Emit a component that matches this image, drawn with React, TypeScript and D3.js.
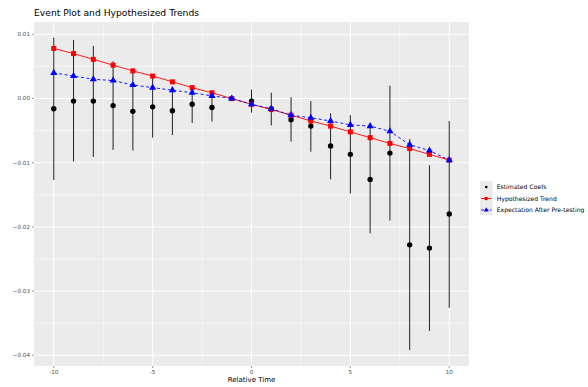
import * as d3 from "d3";

const times = [-10, -9, -8, -7, -6, -5, -4, -3, -2, -1, 0, 1, 2, 3, 4, 5, 6, 7, 8, 9, 10];
const coefs = [-0.0016, -0.0004, -0.0004, -0.0011, -0.002, -0.0013, -0.0019, -0.0009, -0.0014, 0, -0.0004, -0.0016, -0.0033, -0.0043, -0.0074, -0.0087, -0.0126, -0.0085, -0.0228, -0.0233, -0.018];
const ciLow = [-0.0127, -0.0098, -0.0091, -0.008, -0.0081, -0.0061, -0.0057, -0.0038, -0.0036, 0, -0.0022, -0.0042, -0.0067, -0.0083, -0.0126, -0.0148, -0.021, -0.019, -0.0392, -0.0362, -0.0326];
const ciHigh = [0.0095, 0.0091, 0.0082, 0.0058, 0.0047, 0.0035, 0.0017, 0.0012, 0.0008, 0, 0.0014, 0.0009, 0.0002, -0.0004, -0.0023, -0.0026, -0.0043, 0.002, -0.0063, -0.0104, -0.0035];
const trend = [0.0078, 0.007, 0.0061, 0.0052, 0.0043, 0.0035, 0.0026, 0.0017, 0.0009, 0, -0.0009, -0.0017, -0.0026, -0.0035, -0.0043, -0.0052, -0.0061, -0.007, -0.0078, -0.0087, -0.0096];
const expectation = [0.004, 0.0035, 0.003, 0.0028, 0.0021, 0.0017, 0.0013, 0.0009, 0.0004, 0, -0.0009, -0.0016, -0.0026, -0.003, -0.0035, -0.0041, -0.0043, -0.0051, -0.0072, -0.0081, -0.0096];

const xTicks = [-10, -5, 0, 5, 10];
const xMinor = [-7.5, -2.5, 2.5, 7.5];
const yTicks = [0.01, 0, -0.01, -0.02, -0.03, -0.04];
const yMinor = [0.005, -0.005, -0.015, -0.025, -0.035];
const legendLabels = ["Estimated Coefs", "Hypothesized Trend", "Expectation After Pre-testing"];

const font = "DejaVu Sans, sans-serif";

export default function App() {
  const width = 588;
  const height = 387;
  const panel = { left: 34, top: 22, right: 469, bottom: 366 };
  const x = d3.scaleLinear().domain([-11, 11]).range([panel.left, panel.right]);
  const y = d3.scaleLinear().domain([-0.04167, 0.01192]).range([panel.bottom, panel.top]);

  const pts = times.map((t, i) => ({ t, coef: coefs[i], lo: ciLow[i], hi: ciHigh[i], tr: trend[i], ex: expectation[i] }));
  const trendLine = d3.line<(typeof pts)[number]>().x((d) => x(d.t)).y((d) => y(d.tr));
  const expLine = d3.line<(typeof pts)[number]>().x((d) => x(d.t)).y((d) => y(d.ex));
  const tri = d3.symbol().type(d3.symbolTriangle).size(22)();
  const fmt = (v: number) => (v === 0 ? "0.00" : d3.format(".2f")(v));

  const legX = 480;
  const legY = [187, 198.5, 210];

  return (
    <svg width={width} height={height} style={{ position: "absolute", left: 0, top: 0, background: "#fff" }}>
      <text x={34} y={16} fontFamily={font} fontSize={9.2} fill="#000">
        Event Plot and Hypothesized Trends
      </text>
      <rect x={panel.left} y={panel.top} width={panel.right - panel.left} height={panel.bottom - panel.top} fill="#EBEBEB" />
      {yMinor.map((v) => (
        <line key={`ym${v}`} x1={panel.left} x2={panel.right} y1={y(v)} y2={y(v)} stroke="#fff" strokeWidth={0.5} />
      ))}
      {xMinor.map((v) => (
        <line key={`xm${v}`} y1={panel.top} y2={panel.bottom} x1={x(v)} x2={x(v)} stroke="#fff" strokeWidth={0.5} />
      ))}
      {yTicks.map((v) => (
        <line key={`y${v}`} x1={panel.left} x2={panel.right} y1={y(v)} y2={y(v)} stroke="#fff" strokeWidth={1} />
      ))}
      {xTicks.map((v) => (
        <line key={`x${v}`} y1={panel.top} y2={panel.bottom} x1={x(v)} x2={x(v)} stroke="#fff" strokeWidth={1} />
      ))}

      {/* axes */}
      {yTicks.map((v) => (
        <g key={`yt${v}`}>
          <line x1={panel.left - 2} x2={panel.left} y1={y(v)} y2={y(v)} stroke="#333" strokeWidth={0.5} />
          <text x={panel.left - 4} y={y(v)} dy="0.35em" textAnchor="end" fontFamily={font} fontSize={5.6} fill="#4D4D4D">
            {fmt(v)}
          </text>
        </g>
      ))}
      {xTicks.map((v) => (
        <g key={`xt${v}`}>
          <line y1={panel.bottom} y2={panel.bottom + 2} x1={x(v)} x2={x(v)} stroke="#333" strokeWidth={0.5} />
          <text x={x(v)} y={panel.bottom + 8} textAnchor="middle" fontFamily={font} fontSize={5.6} fill="#4D4D4D">
            {v}
          </text>
        </g>
      ))}
      <text x={(panel.left + panel.right) / 2} y={382} textAnchor="middle" fontFamily={font} fontSize={7} fill="#000">
        Relative Time
      </text>

      {/* estimates */}
      {pts.map((d) => (
        <line key={`ci${d.t}`} x1={x(d.t)} x2={x(d.t)} y1={y(d.lo)} y2={y(d.hi)} stroke="#222" strokeWidth={1} />
      ))}
      {pts.map((d) => (
        <circle key={`c${d.t}`} cx={x(d.t)} cy={y(d.coef)} r={2.7} fill="#000" />
      ))}

      {/* hypothesized trend */}
      <path d={trendLine(pts) ?? undefined} fill="none" stroke="#FF0000" strokeWidth={0.9} />
      {pts.map((d) => (
        <rect key={`s${d.t}`} x={x(d.t) - 2.5} y={y(d.tr) - 2.5} width={5} height={5} fill="#FF0000" />
      ))}

      {/* expectation */}
      <path d={expLine(pts) ?? undefined} fill="none" stroke="#0000FF" strokeWidth={0.9} strokeDasharray="3,2.5" />
      {pts.map((d) => (
        <path key={`t${d.t}`} d={tri ?? undefined} transform={`translate(${x(d.t)},${y(d.ex)})`} fill="#0000FF" />
      ))}

      {/* legend */}
      <rect x={legX} y={181} width={12.5} height={34} fill="#EBEBEB" />
      {legendLabels.map((label, i) => (
        <g key={label}>
          {i === 0 ? (
            <circle cx={legX + 6.25} cy={legY[i]} r={1.3} fill="#000" />
          ) : i === 1 ? (
            <g>
              <line x1={legX + 1} x2={legX + 11.5} y1={legY[i]} y2={legY[i]} stroke="#FF0000" strokeWidth={0.9} />
              <rect x={legX + 4.5} y={legY[i] - 1.6} width={3.2} height={3.2} fill="#FF0000" />
            </g>
          ) : (
            <g>
              <line x1={legX + 1} x2={legX + 11.5} y1={legY[i]} y2={legY[i]} stroke="#0000FF" strokeWidth={0.9} strokeDasharray="3,1.5" />
              <path d={d3.symbol().type(d3.symbolTriangle).size(10)() ?? undefined} transform={`translate(${legX + 6.25},${legY[i]})`} fill="#0000FF" />
            </g>
          )}
          <text x={legX + 16.7} y={legY[i]} dy="0.35em" fontFamily={font} fontSize={6.1} fill="#000">
            {label}
          </text>
        </g>
      ))}
    </svg>
  );
}
